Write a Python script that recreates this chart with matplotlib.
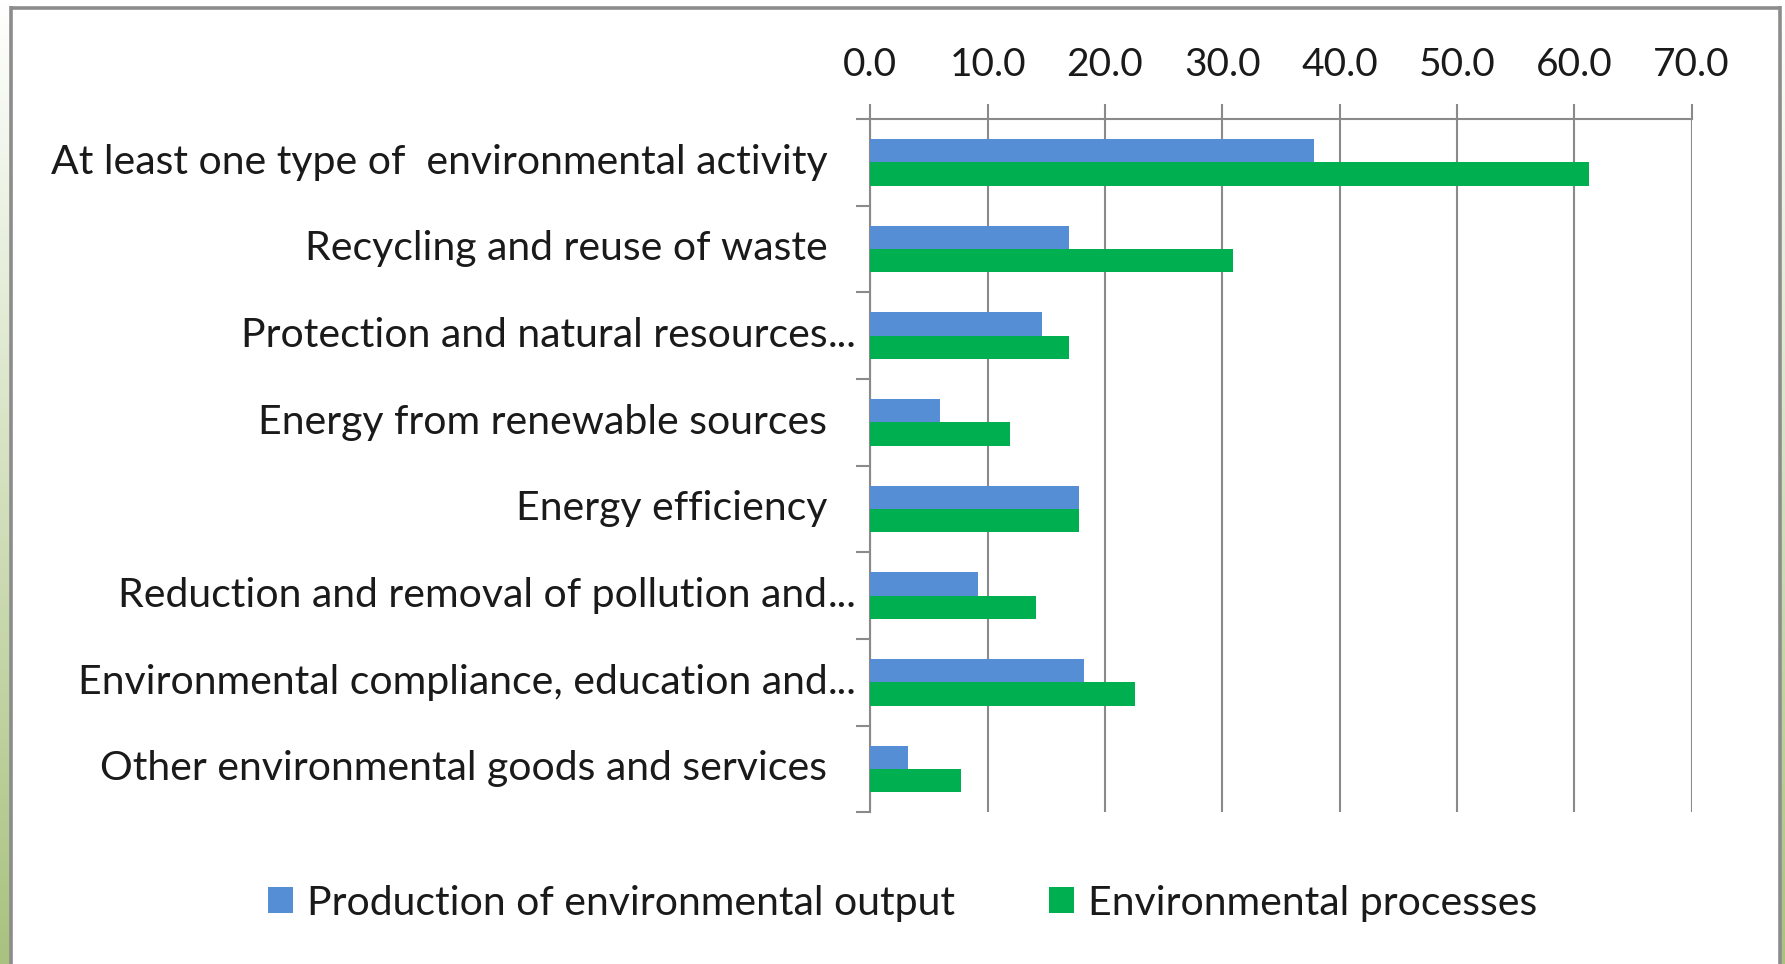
import matplotlib.pyplot as plt
import numpy as np
from matplotlib.patches import Patch
from matplotlib.lines import Line2D
from matplotlib.colors import LinearSegmentedColormap
import matplotlib.transforms as mtransforms

plt.rcParams['font.family'] = ['Lato', 'DejaVu Sans']

# Data
categories = ['At least one type of  environmental activity',
              'Recycling and reuse of waste',
              'Protection and natural resources',
              'Energy from renewable sources',
              'Energy efficiency',
              'Reduction and removal of pollution and',
              'Environmental compliance, education and',
              'Other environmental goods and services']
truncated = [False, False, True, False, False, True, True, False]
production = [37.8, 16.9, 14.6, 5.9, 17.8, 9.2, 18.2, 3.2]
processes = [61.3, 30.9, 16.9, 11.9, 17.8, 14.1, 22.6, 7.7]
xticks = [0, 10, 20, 30, 40, 50, 60, 70]

blue = '#558ED5'
green = '#00B050'
grid_col = '#8a8a8a'
text_col = '#1a1a1a'

W, H = 1785, 964
fig = plt.figure(figsize=(W / 100, H / 100), dpi=100)

# Slide background strips (light green gradient) and chart frame
grad = np.linspace(0, 1, 256).reshape(-1, 1)
cmap = LinearSegmentedColormap.from_list('bg', ['#ffffff', '#a9c27f'])
for x0, w in [(0, 9), (1781, 4)]:
    bax = fig.add_axes([x0 / W, 0, w / W, 1])
    bax.imshow(grad, aspect='auto', cmap=cmap, extent=[0, 1, 0, 1])
    bax.set_axis_off()

frame = dict(color='#8c8c8c', linewidth=2.6, transform=fig.transFigure, solid_capstyle='butt')
fig.add_artist(Line2D([10.5 / W, 10.5 / W], [0, 1 - 6 / H], **frame))
fig.add_artist(Line2D([10.5 / W, 1779.5 / W], [1 - 7.5 / H, 1 - 7.5 / H], **frame))
fig.add_artist(Line2D([1779.5 / W, 1779.5 / W], [0, 1 - 6 / H], **frame))

left, right = 870.3 / W, 1691.5 / W
top, bottom = 1 - 119 / H, 1 - 812.3 / H
ax = fig.add_axes([left, bottom, right - left, top - bottom])

y = np.arange(len(categories))
h = 0.27
ax.barh(y - h / 2, production, height=h, color=blue, zorder=3)
ax.barh(y + h / 2, processes, height=h, color=green, zorder=3)

ax.set_xlim(0, 70)
ax.set_ylim(len(categories) - 0.5, -0.5)

ax.xaxis.tick_top()
ax.set_xticks(xticks)
ax.set_xticklabels([f'{v:.1f}' for v in xticks], fontsize=28, color=text_col)
ax.tick_params(axis='x', direction='out', length=10.8, width=1.5, color=grid_col, pad=15)
ax.grid(True, axis='x', color=grid_col, linewidth=1.5, zorder=0)

ax.set_yticks([])
ax.set_yticks(np.arange(len(categories) + 1) - 0.5, minor=True)
ax.tick_params(axis='y', which='minor', direction='out', length=10, width=1.5, color=grid_col)
ax.tick_params(axis='y', which='major', length=0)

for side in ['right', 'bottom']:
    ax.spines[side].set_visible(False)
for side in ['left', 'top']:
    ax.spines[side].set_color(grid_col)
    ax.spines[side].set_linewidth(1.5)

# Category labels, right aligned, with Excel-style ellipsis for cut labels
trans = ax.get_yaxis_transform() + mtransforms.ScaledTranslation(-43 / 100, 0, fig.dpi_scale_trans)
for i, (lab, cut) in enumerate(zip(categories, truncated)):
    ax.text(0, i, lab, transform=trans, ha='right', va='center', fontsize=29.5, color=text_col)
    if cut:
        ax.text(0, i, '...', transform=trans, ha='left', va='center', fontsize=29.5, color=text_col)

handles = [Patch(facecolor=blue, label='Production of environmental output'),
           Patch(facecolor=green, label='Environmental processes')]
fig.legend(handles=handles, loc='center', bbox_to_anchor=(903 / W, 1 - 903 / H), ncol=2,
           frameon=False, fontsize=29.5, handlelength=0.6, handleheight=0.6,
           handletextpad=0.35, columnspacing=2.3, labelcolor=text_col)

fig.savefig('out.png', dpi=100)
